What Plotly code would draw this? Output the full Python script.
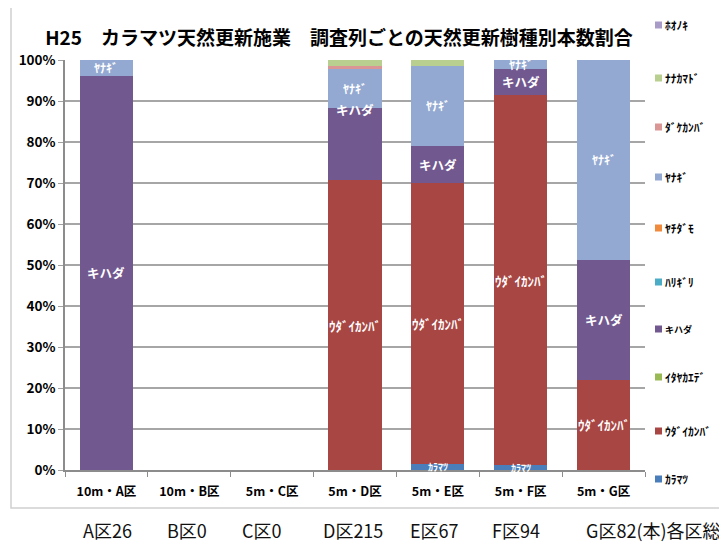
import plotly.graph_objects as go

categories = ["10m・A区", "10m・B区", "5m・C区", "5m・D区", "5m・E区", "5m・F区", "5m・G区"]

# stacked bottom -> top (percent)
series_names = ["ｶﾗﾏﾂ", "ｳﾀﾞｲｶﾝﾊﾞ", "ｲﾀﾔｶｴﾃﾞ", "キハダ", "ﾊﾘｷﾞﾘ", "ﾔﾁﾀﾞﾓ", "ﾔﾅｷﾞ", "ﾀﾞｹｶﾝﾊﾞ", "ﾅﾅｶﾏﾄﾞ", "ﾎｵﾉｷ"]
karamatsu = [0, 0, 0, 0, 1.5, 1.1, 0]
udaikanba = [0, 0, 0, 70.7, 68.6, 90.4, 22.0]
itayakaede = [0, 0, 0, 0, 0, 0, 0]
kihada = [96.2, 0, 0, 17.7, 9.0, 6.4, 29.3]
harigiri = [0, 0, 0, 0, 0, 0, 0]
yachidamo = [0, 0, 0, 0, 0, 0, 0]
yanagi = [3.8, 0, 0, 9.3, 19.4, 2.1, 48.7]
dakekanba = [0, 0, 0, 0.9, 0, 0, 0]
nanakamado = [0, 0, 0, 1.4, 1.5, 0, 0]
hoonoki = [0, 0, 0, 0, 0, 0, 0]
series_values = [karamatsu, udaikanba, itayakaede, kihada, harigiri, yachidamo, yanagi, dakekanba, nanakamado, hoonoki]
colors = ["#4A7EBB", "#A84644", "#98B954", "#71588F", "#4BACC6", "#F08A3C", "#93A9D1", "#D99694", "#B9CF90", "#A99BC8"]

# in-bar labels: series index -> (text, font size)
bar_labels = {0: ("ｶﾗﾏﾂ", 10), 1: ("ｳﾀﾞｲｶﾝﾊﾞ", 13), 3: ("キハダ", 12.5), 6: ("ﾔﾅｷﾞ", 12)}
label_at_top = {(3, "5m・D区")}

totals_text = ["A区26", "B区0", "C区0", "D区215", "E区67", "F区94", "G区82(本)各区総本数"]
totals_xpx = [81, 165, 240, 321, 408, 490, 584]

FONT = "Noto Sans CJK JP"
OFF = 8                      # page body margin
W, H = 727 - OFF, 550 - OFF
PX0, PX1, PY0, PY1 = 65, 645, 60, 470   # plot area in page pixels
L, R, T, B = PX0 - OFF, W - (PX1 - OFF), PY0 - OFF, H - (PY1 - OFF)
PW, PH = PX1 - PX0, PY1 - PY0


def px(x):
    return (x - PX0) / PW


def py(y):
    return (PY1 - y) / PH


fig = go.Figure()
for name, vals, col in zip(series_names, series_values, colors):
    fig.add_trace(go.Bar(
        x=categories, y=vals, name=name, marker=dict(color=col, line=dict(width=0)),
        hoverinfo="skip", showlegend=False,
    ))

annotations = []
shapes = []
for i, (text, size) in bar_labels.items():
    for j, cat in enumerate(categories):
        v = series_values[i][j]
        if v <= 0:
            continue
        base = sum(series_values[k][j] for k in range(i))
        if (i, cat) in label_at_top:
            y, yshift = base + v, -2
        else:
            y, yshift = base + v / 2, 0
        annotations.append(dict(
            x=cat, y=y, xref="x", yref="y", text=text, showarrow=False, yshift=yshift,
            font=dict(family=FONT, size=size, color="white", weight="bold"),
        ))

# manual legend (top entry = last stacked series)
legend_y = [25, 78, 127, 177, 228, 282, 329, 377, 431, 479]
for k, idx in enumerate(reversed(range(len(series_names)))):
    yc = legend_y[k]
    shapes.append(dict(
        type="rect", xref="paper", yref="paper",
        x0=px(655), x1=px(662), y0=py(yc + 3.5), y1=py(yc - 3.5),
        fillcolor=colors[idx], line=dict(width=0),
    ))
    annotations.append(dict(
        x=px(663), y=py(yc), xref="paper", yref="paper", text=series_names[idx],
        showarrow=False, xanchor="left", yanchor="middle",
        font=dict(family=FONT, size=9 if series_names[idx] == "キハダ" else 11.5,
                  color="black", weight="bold"),
    ))

for t, xp in zip(totals_text, totals_xpx):
    annotations.append(dict(
        x=px(xp), y=py(530), xref="paper", yref="paper",
        text=t, showarrow=False, xanchor="left", yanchor="middle",
        font=dict(family=FONT, size=18, color="#111111"),
    ))

shapes.append(dict(
    type="rect", xref="paper", yref="paper",
    x0=px(11), x1=px(760), y0=py(508), y1=py(2),
    line=dict(color="#D0D0D0", width=1.5), fillcolor="rgba(0,0,0,0)", layer="below",
))

fig.update_layout(
    width=W, height=H, barmode="stack", bargap=0.36,
    margin=dict(l=L, r=R, t=T, b=B, autoexpand=False),
    paper_bgcolor="white", plot_bgcolor="white",
    font=dict(family=FONT, color="black"),
    showlegend=False,
    title=dict(
        text="H25　カラマツ天然更新施業　調査列ごとの天然更新樹種別本数割合",
        x=px(339), xref="paper", xanchor="center",
        y=1 - (38 - OFF) / H, yref="container", yanchor="middle",
        font=dict(family=FONT, size=19, color="black", weight="bold"),
    ),
    xaxis=dict(
        type="category", showline=True, linecolor="#8C8C8C", linewidth=1.5,
        ticks="outside", tickson="boundaries", ticklen=5, tickcolor="#8C8C8C",
        ticklabelstandoff=9,
        tickfont=dict(family=FONT, size=12.5, color="black", weight="bold"),
        showgrid=False, fixedrange=True,
    ),
    yaxis=dict(
        range=[0, 100], dtick=10, ticksuffix="%", showline=True, linecolor="#8C8C8C", linewidth=1.5,
        ticks="outside", ticklen=5, tickcolor="#A0A0A0",
        showgrid=True, gridcolor="#A6A6A6", gridwidth=1.5, zeroline=False,
        tickfont=dict(family=FONT, size=13.5, color="black", weight="bold"),
        fixedrange=True,
    ),
    annotations=annotations,
    shapes=shapes,
)

fig.write_html("out.html")
